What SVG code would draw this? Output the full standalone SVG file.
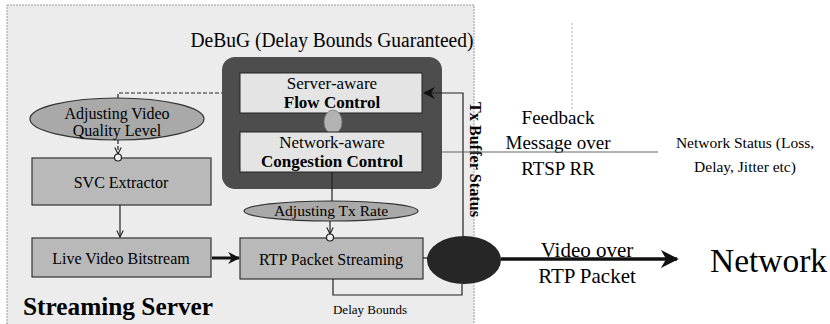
<svg xmlns="http://www.w3.org/2000/svg" width="830" height="324" viewBox="0 0 830 324">
<defs>
<style>
text{font-family:"Liberation Serif","Times New Roman",serif;fill:#000}
.c{text-anchor:middle}
.b{font-weight:bold}
.box{fill:#b9b9b9;stroke:#333;stroke-width:1.2}
.inner{fill:#e4e4e4;stroke:#222;stroke-width:1}
.ell{fill:#a9a9a9;stroke:#333;stroke-width:1.2}
.ln{fill:none;stroke:#222;stroke-width:1.2}
.dash{fill:none;stroke:#222;stroke-width:1.2;stroke-dasharray:4 2}
.thick{fill:none;stroke:#111;stroke-width:3.5}
</style>
<marker id="vee" viewBox="0 0 10 10" refX="9" refY="5" markerWidth="8" markerHeight="8" orient="auto" markerUnits="userSpaceOnUse">
<path d="M1,1 L9,5 L1,9" fill="none" stroke="#222" stroke-width="1.4"/>
</marker>
<marker id="fill" viewBox="0 0 10 10" refX="9" refY="5" markerWidth="12" markerHeight="12" orient="auto" markerUnits="userSpaceOnUse">
<path d="M0,0 L10,5 L0,10 L3,5 Z" fill="#111"/>
</marker>
<marker id="big" viewBox="0 0 10 10" refX="9" refY="5" markerWidth="18" markerHeight="18" orient="auto" markerUnits="userSpaceOnUse">
<path d="M0,0 L10,5 L0,10 L3,5 Z" fill="#111"/>
</marker>
</defs>
<rect width="830" height="324" fill="#fff"/>
<g id="streaming-server">
<rect x="7" y="5" width="467" height="330" fill="#ececec" stroke="#9a9a9a" stroke-width="1" stroke-dasharray="2 1"/>
<text x="23" y="315" class="b" font-size="25" textLength="190" lengthAdjust="spacingAndGlyphs">Streaming Server</text>
</g>
<g id="debug">
<text x="332" y="47" class="c" font-size="20" textLength="283" lengthAdjust="spacingAndGlyphs">DeBuG (Delay Bounds Guaranteed)</text>
<rect x="222" y="57" width="220" height="132" rx="13" fill="#4d4d4d"/>
</g>
<g id="flow-control">
<rect x="240" y="73" width="182" height="40" class="inner"/>
<text x="332" y="89" class="c" font-size="17">Server-aware</text>
<text x="332" y="108" class="c b" font-size="17">Flow Control</text>
</g>
<g id="link-ellipse">
<ellipse cx="333" cy="122" rx="9" ry="12" fill="#b3b3b3" stroke="#777" stroke-width="0.8"/>
</g>
<g id="congestion-control">
<rect x="240" y="132" width="182" height="40" class="inner"/>
<text x="332" y="148" class="c" font-size="17">Network-aware</text>
<text x="332" y="167" class="c b" font-size="17">Congestion Control</text>
</g>
<g id="adjust-video">
<ellipse cx="117" cy="119" rx="87" ry="21" class="ell"/>
<text x="117" y="119" class="c" font-size="16">Adjusting Video</text>
<text x="117" y="136" class="c" font-size="16">Quality Level</text>
</g>
<g id="svc-extractor">
<rect x="32" y="158" width="179" height="47" class="box"/>
<text x="121" y="188" class="c" font-size="16">SVC Extractor</text>
</g>
<g id="live-video">
<rect x="32" y="238" width="179" height="39" class="box"/>
<text x="121" y="264" class="c" font-size="16">Live Video Bitstream</text>
</g>
<g id="adjust-tx">
<ellipse cx="331" cy="211" rx="87" ry="10" class="ell"/>
<text x="331" y="216" class="c" font-size="15.5">Adjusting Tx Rate</text>
</g>
<g id="rtp-streaming">
<rect x="240" y="238" width="183" height="41" class="box"/>
<text x="331" y="265" class="c" font-size="16">RTP Packet Streaming</text>
</g>
<g id="tx-buffer">
<ellipse cx="464" cy="260" rx="37" ry="24" fill="#262626"/>
</g>
<g id="labels">
<text transform="translate(470,102) rotate(90)" class="b" font-size="16" textLength="115" lengthAdjust="spacingAndGlyphs">Tx Buffer Status</text>
<text x="370" y="314" class="c" font-size="13">Delay Bounds</text>
<text x="558" y="124" class="c" font-size="19">Feedback</text>
<text x="558" y="149" class="c" font-size="19">Message over</text>
<text x="558" y="175" class="c" font-size="19">RTSP RR</text>
<text x="745" y="148" class="c" font-size="15.5">Network Status (Loss,</text>
<text x="745" y="172" class="c" font-size="15.5">Delay, Jitter etc)</text>
<text x="587" y="257" class="c" font-size="21">Video over</text>
<text x="587" y="283" class="c" font-size="21">RTP Packet</text>
</g>
<g id="network">
<text x="710" y="272" font-size="34" textLength="117" lengthAdjust="spacingAndGlyphs">Network</text>
</g>
<g id="connectors">
<path d="M118,98 V93 H222" class="dash"/>
<path d="M118,140 V154" class="dash" marker-end="url(#vee)"/>
<circle cx="118" cy="157.5" r="3.5" fill="#eee" stroke="#222" stroke-width="1.2"/>
<path d="M120,205 V237" class="ln" marker-end="url(#vee)"/>
<path d="M212,258 H239" fill="none" stroke="#111" stroke-width="3" marker-end="url(#fill)"/>
<path d="M332,172 V201" class="ln"/>
<path d="M330,221 V234" class="ln" marker-end="url(#vee)"/>
<circle cx="330" cy="237.5" r="3.5" fill="#eee" stroke="#222" stroke-width="1.2"/>
<path d="M423,258 H428" class="ln" stroke-width="2"/>
<path d="M333,279 V295 H462 V284" class="ln"/>
<path d="M463,236 V93 H424" class="ln" marker-end="url(#fill)"/>
<path d="M442,152 H658" fill="none" stroke="#666" stroke-width="1"/>
<path d="M572,23 V110" fill="none" stroke="#aaa" stroke-width="1" stroke-dasharray="2 2"/>
<path d="M501,259 H677" class="thick" marker-end="url(#big)"/>
</g>
</svg>
